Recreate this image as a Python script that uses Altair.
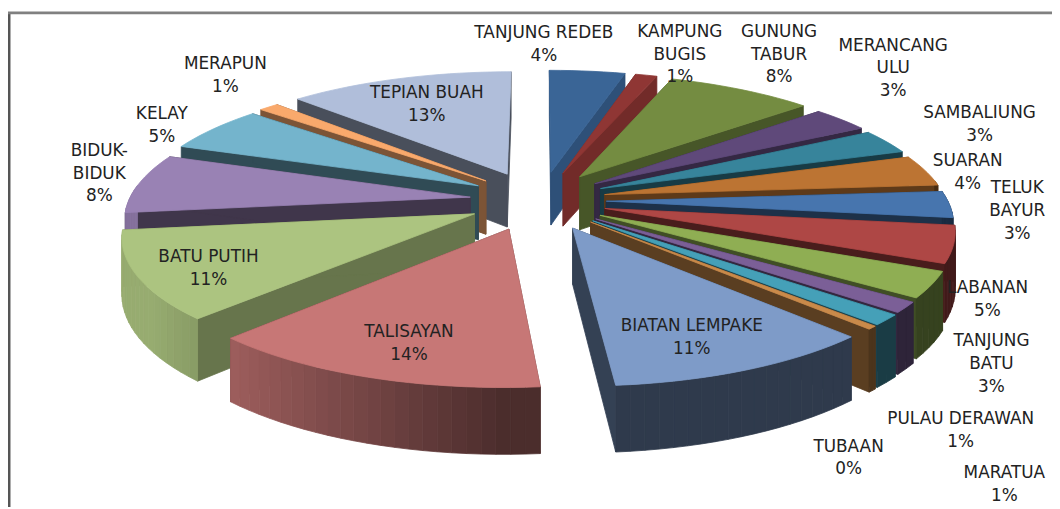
import math
import altair as alt

NAMES = ["TANJUNG REDEB", "KAMPUNG\nBUGIS", "GUNUNG\nTABUR", "MERANCANG\nULU", "SAMBALIUNG",
         "SUARAN", "TELUK\nBAYUR", "LABANAN", "TANJUNG\nBATU", "PULAU DERAWAN", "MARATUA",
         "TUBAAN", "BIATAN LEMPAKE", "TALISAYAN", "BATU PUTIH", "BIDUK-\nBIDUK", "KELAY",
         "MERAPUN", "TEPIAN BUAH"]
LABELS = ["4%", "1%", "8%", "3%", "3%", "4%", "3%", "5%", "3%", "1%", "1%", "0%",
          "11%", "14%", "11%", "8%", "5%", "1%", "13%"]
SHARES = [4.2, 1.2, 8.1, 3.2, 3.1, 3.9, 3.3, 4.6, 3.2, 1.3, 1.3, 0.4,
          10.7, 13.5, 10.9, 7.5, 5.8, 1.1, 12.5]
COLORS = ["#3A6596", "#8F3634", "#748C41", "#5F497A", "#37849B", "#BC7433", "#4775AE", "#AE4745",
          "#8FAE53", "#7B5F97", "#45A0B8", "#C98A4A", "#7E9BC8", "#C77776", "#ACC480", "#9982B4",
          "#74B4CC", "#F9A96C", "#B0BEDA"]
WALL_SHADE = [0.8, 0.8, 0.62, 0.55, 0.45, 0.5, 0.42, 0.42, 0.45, 0.42, 0.42, 0.45,
              0.42, 0.5, 0.6, 0.42, 0.42, 0.5, 0.42]
LABEL_X = [548, 685, 785, 900, 987, 975, 1025, 995, 999, 968, 1012, 855, 697, 412, 210, 100, 163, 227, 430]
LABEL_Y = [31, 30, 30, 44, 112, 160, 188, 288, 342, 420, 475, 448, 327, 333, 257, 150, 113, 63, 92]

CX, CY, A, B, P, EXPLODE_X, EXPLODE_Y, DEPTH = 542 - 8, 200 - 8, 344, 126, 0.15, 0.2, 0.235, 55
total = sum(SHARES)


def proj(u, v, z=0.0):
    s = 1 / (1 - P * v)
    return [CX + A * u * s, CY + B * v * s + DEPTH * z * s]


def shade(color, f):
    r, g, b = [int(color[i:i + 2], 16) for i in (1, 3, 5)]
    return "#%02x%02x%02x" % (int(r * f), int(g * f), int(b * f))


def feature(ring, fill):
    ring = ring + [ring[0]]
    return {"type": "Feature", "geometry": {"type": "Polygon", "coordinates": [ring]},
            "properties": {"fill": fill}}


slices = []
cum = 0.0
for i, share in enumerate(SHARES):
    a0 = cum / total * 2 * math.pi
    cum += share
    a1 = cum / total * 2 * math.pi
    slices.append((i, a0, a1))

features = []
for i, a0, a1 in sorted(slices, key=lambda t: -math.cos((t[1] + t[2]) / 2)):
    mid = (a0 + a1) / 2
    sm = math.sin(mid)
    ou = EXPLODE_X * math.copysign(abs(sm) ** 0.8, sm)
    ov = -EXPLODE_Y * math.cos(mid)
    color = COLORS[i]
    n = max(2, int((a1 - a0) / math.radians(2)))
    angles = [a0 + (a1 - a0) * k / n for k in range(n + 1)]
    pts = [(ou + math.sin(a), ov - math.cos(a)) for a in angles]
    wall = shade(color, WALL_SHADE[i])
    # radial walls
    for pu, pv in (pts[0], pts[-1]):
        features.append(feature([proj(ou, ov), proj(pu, pv), proj(pu, pv, 1), proj(ou, ov, 1)], wall))
    # outer wall, shaded in strips
    for k in range(n):
        (u0, v0), (u1, v1) = pts[k], pts[k + 1]
        if math.cos((angles[k] + angles[k + 1]) / 2) < 0.1:
            um = math.sin((angles[k] + angles[k + 1]) / 2)
            f = min(0.88, 0.38 + 0.6 * max(0.0, -um))
            features.append(feature([proj(u0, v0), proj(u1, v1), proj(u1, v1, 1), proj(u0, v0, 1)],
                                    shade(color, f)))
    # top face
    features.append(feature([proj(ou, ov)] + [proj(u, v) for u, v in pts], color))

shapes = alt.Chart(alt.Data(values=features)).mark_geoshape(strokeWidth=0.8).encode(
    fill=alt.Fill("properties.fill:N", scale=None),
    stroke=alt.Stroke("properties.fill:N", scale=None),
)

label_rows = [{"t": f"{n}\n{p}", "lon": x - 8, "lat": y - 8}
              for n, p, x, y in zip(NAMES, LABELS, LABEL_X, LABEL_Y)]
labels = alt.Chart(alt.Data(values=label_rows)).mark_text(
    font="DejaVu Sans", fontSize=17, lineBreak="\n", lineHeight=23, align="center",
    baseline="middle", color="#222222",
).encode(longitude="lon:Q", latitude="lat:Q", text="t:N")

left = alt.Chart(alt.Data(values=[{"a": 1}])).mark_rule(color="#555555", strokeWidth=3).encode(
    x=alt.value(1), y=alt.value(2), y2=alt.value(501))
top = alt.Chart(alt.Data(values=[{"a": 1}])).mark_rule(color="#808080", strokeWidth=3).encode(
    x=alt.value(0), x2=alt.value(1052), y=alt.value(3))

chart = alt.layer(shapes, labels, left, top).project(
    type="identity", scale=1, translate=[0, 0]
).properties(width=1052, height=501, padding=0, autosize=alt.AutoSizeParams(type="none")
).configure_view(stroke=None)

chart.save("out.html", embed_options={"renderer": "svg", "actions": False})
